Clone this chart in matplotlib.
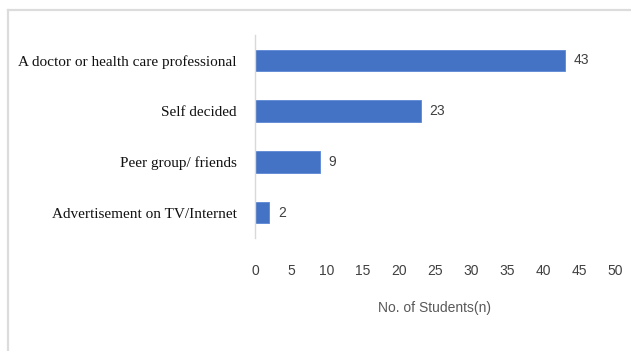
import matplotlib
matplotlib.use("Agg")
import matplotlib.pyplot as plt
from matplotlib.lines import Line2D

# Source of advice for medication
sources = [
    "A doctor or health care professional",
    "Self decided",
    "Peer group/ friends",
    "Advertisement on TV/Internet",
]
students = [43, 23, 9, 2]
x_ticks = [0, 5, 10, 15, 20, 25, 30, 35, 40, 45, 50]

BAR_COLOR = "#4472C4"
NUM_FONT = ["Liberation Sans Narrow", "Liberation Sans", "DejaVu Sans"]
LABEL_FONT = ["Liberation Serif", "DejaVu Serif"]

fig = plt.figure(figsize=(6.31, 3.51), dpi=100)
ax = fig.add_axes([255 / 631, 113 / 351, 360 / 631, 203 / 351])

pos = list(range(len(sources)))
ax.barh(pos, students, height=0.42, color=BAR_COLOR, edgecolor="#5B87D6", linewidth=0.6)

for p, v in zip(pos, students):
    ax.text(v + 1.2, p, str(v), va="center", ha="left",
            fontsize=10, color="#404040", family=NUM_FONT)

ax.set_ylim(len(sources) - 0.5, -0.5)
ax.set_xlim(0, 50)
ax.set_yticks(pos)
ax.set_yticklabels(sources, family=LABEL_FONT, fontsize=11, color="#111111")
ax.set_xticks(x_ticks)
ax.set_xticklabels([str(t) for t in x_ticks], family=NUM_FONT, fontsize=10, color="#404040")
ax.tick_params(axis="y", length=0, pad=13)
ax.tick_params(axis="x", length=0, pad=19)

ax.set_xlabel("No. of Students(n)", family=NUM_FONT, fontsize=10,
              color="#595959", labelpad=16)

for side in ["top", "right", "bottom"]:
    ax.spines[side].set_visible(False)
ax.spines["left"].set_color("#D9D9D9")
ax.spines["left"].set_linewidth(1.0)

# light frame around the chart area
fx = 7.5 / 631
fy = (351 - 10) / 351
fig.add_artist(Line2D([fx, fx], [0, fy], transform=fig.transFigure, color="#DCDCDC", lw=1.6))
fig.add_artist(Line2D([fx, 1], [fy, fy], transform=fig.transFigure, color="#DCDCDC", lw=1.6))

fig.savefig("out.png", dpi=100)
